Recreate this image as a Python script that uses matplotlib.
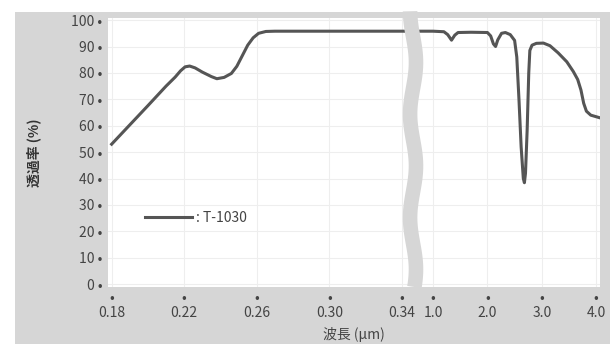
import numpy as np
import matplotlib
matplotlib.use("Agg")
import matplotlib.pyplot as plt
from matplotlib.patches import Rectangle

plt.rcParams['font.family'] = ['Noto Sans CJK JP', 'DejaVu Sans']

# wavelength (um) / transmittance (%)
wave = [0.18, 0.19, 0.20, 0.21, 0.215, 0.218, 0.2205, 0.223, 0.226, 0.23, 0.235, 0.238, 0.242,
        0.246, 0.249, 0.252, 0.255, 0.258, 0.261, 0.265, 0.27, 0.30, 0.34, 0.35,
        0.9, 1.0, 1.2, 1.27, 1.34, 1.40, 1.46, 1.7, 2.0, 2.06, 2.11, 2.15, 2.19,
        2.26, 2.33, 2.42, 2.5, 2.54, 2.58, 2.62, 2.66, 2.68, 2.70, 2.73, 2.76,
        2.78, 2.82, 2.9, 3.03, 3.15, 3.3, 3.46, 3.58, 3.66, 3.72, 3.77, 3.82,
        3.9, 4.05]
trans = [53, 60.3, 67.6, 75, 78.4, 80.8, 82.3, 82.6, 81.9, 80.3, 78.6, 77.8, 78.3,
         79.8, 82.5, 86.5, 90.5, 93.3, 95, 95.7, 95.8, 95.8, 95.8, 95.8,
         95.8, 95.8, 95.6, 94.5, 92.4, 94.3, 95.3, 95.4, 95.3, 94, 91, 90, 92.5,
         95, 95.3, 94.5, 92.3, 86, 70, 52, 40, 38.4, 42, 58, 80,
         88.5, 90.5, 91.2, 91.3, 90.3, 87.6, 84.2, 80.5, 77.5, 73.5, 68.5, 65.5,
         64, 63.1]
xticks = [0.18, 0.22, 0.26, 0.30, 0.34, 1.0, 2.0, 3.0, 4.0]
xtick_labels = ['0.18', '0.22', '0.26', '0.30', '0.34', '1.0', '2.0', '3.0', '4.0']
yticks = list(range(0, 101, 10))

# broken axis: two linear pieces joined over a small gap
w_pts = [0.0, 0.35, 0.9, 10.0]
u_pts = [(0.0 - 0.18) / 0.16 * 290, 308.1, 315.6, 321 + 9.0 * 54.33]
def fwd(w):
    return np.interp(w, w_pts, u_pts)
def inv(u):
    return np.interp(u, u_pts, w_pts)

fig = plt.figure(figsize=(6.16, 3.44), dpi=100, facecolor='white')
fig.add_artist(Rectangle((15 / 616, 0), 595 / 616, 332 / 344, transform=fig.transFigure,
                         facecolor='#d6d6d6', edgecolor='none', zorder=-10))
ax = fig.add_axes([108 / 616, 1 - 287 / 344, 492 / 616, 269 / 344])
ax.set_facecolor('white')
ax.set_xscale('function', functions=(fwd, inv))
ax.set_xlim(0.178, 4.07)
ax.set_ylim(-1.1, 100.8)

ax.plot(wave, trans, color='#555555', lw=2.2, label=': T-1030', solid_joinstyle='round', zorder=3)

ax.set_xticks(xticks)
ax.set_xticklabels(['\u2022\n' + t for t in xtick_labels], fontsize=10, color='#444444', linespacing=1.1)
ax.set_yticks(yticks)
ax.set_yticklabels([f'{v} \u2022' for v in yticks], fontsize=10, color='#444444')
ax.tick_params(length=0, pad=4)
ax.tick_params(axis='x', pad=3)
ax.grid(True, color='#eeeeee', lw=0.8)
ax.set_axisbelow(True)
for s in ax.spines.values():
    s.set_visible(False)

# wavy break band
yy = np.linspace(0, 1.025, 80)
xx = 0.62 + 0.006 * np.sin(yy * 2 * np.pi * 2.6 + 0.5)
ax.plot(xx, yy, transform=ax.transAxes, color='#d6d6d6', lw=10.5, zorder=5, clip_on=False,
        solid_capstyle='butt')

ax.set_xlabel('波長 (\u03bcm)', fontsize=10, color='#444444', labelpad=5)
ax.set_ylabel('透過率 (%)', fontsize=10, color='#333333', labelpad=22, fontweight='bold')

leg = ax.legend(loc='center left', bbox_to_anchor=(0.05, 0.257), frameon=False,
                handlelength=3.4, handletextpad=0.3, fontsize=10)
for t in leg.get_texts():
    t.set_color('#444444')

fig.savefig('out.png', dpi=100, facecolor='white')
